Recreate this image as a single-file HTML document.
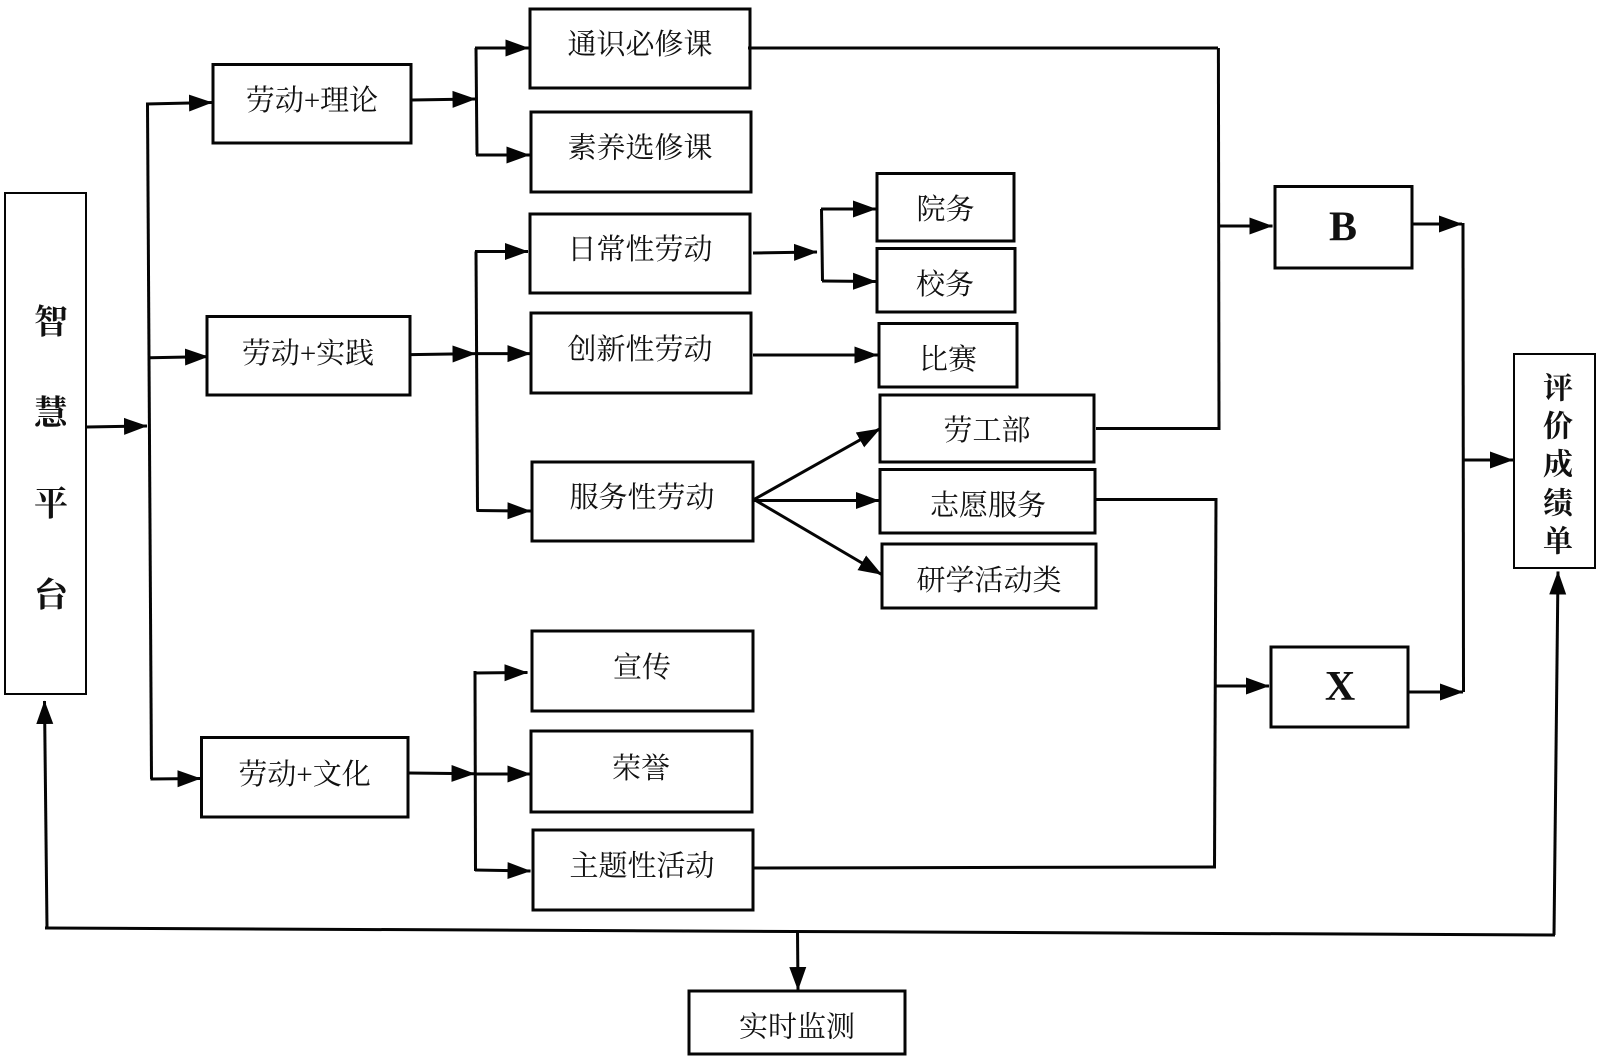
<!DOCTYPE html>
<html lang="zh"><head><meta charset="utf-8"><title>智慧平台流程图</title>
<style>
html,body{margin:0;padding:0;background:#fff;width:1600px;height:1063px;overflow:hidden}
svg{display:block;filter:blur(.35px)}
text{font-family:"Liberation Serif","Noto Serif CJK SC",serif;fill:#111;text-anchor:middle;dominant-baseline:central}
.t{font-size:29px}
.v{font-size:34px;font-weight:700}
.w{font-size:30px;font-weight:700}
.l{font-size:42px;font-weight:700;font-family:"Liberation Serif",serif}
.b rect{fill:#fff;stroke:#050505;stroke-width:3}
.c path{fill:none;stroke:#050505;stroke-width:3;stroke-linecap:butt;stroke-linejoin:miter}
.a path{marker-end:url(#ah)}
</style></head><body>
<svg width="1600" height="1063" viewBox="0 0 1600 1063" xmlns="http://www.w3.org/2000/svg">
<defs>
<marker id="ah" markerUnits="userSpaceOnUse" markerWidth="25" markerHeight="19" refX="23" refY="9" orient="auto"><path d="M0,0.5 L23.5,9 L0,17.500 Z" fill="#050505"/></marker>
</defs>
<rect width="1600" height="1063" fill="#fff"/>

<g class="b">
<rect x="5" y="193" width="81" height="501" style="stroke-width:2"/>
<rect x="1514" y="354" width="81" height="214" style="stroke-width:2"/>
<rect x="213" y="64.5" width="198" height="78.5"/>
<rect x="207" y="316.5" width="203" height="78.5"/>
<rect x="201.500" y="737.500" width="206.500" height="79.500"/>
<rect x="530" y="9" width="220" height="79"/>
<rect x="531" y="112" width="220" height="80"/>
<rect x="530" y="214" width="220" height="79"/>
<rect x="531" y="313" width="220" height="80"/>
<rect x="532" y="462" width="221" height="79"/>
<rect x="532" y="631" width="221" height="80"/>
<rect x="531" y="731" width="221" height="81"/>
<rect x="533" y="830" width="220" height="80"/>
<rect x="877" y="173.500" width="137" height="67.500"/>
<rect x="877" y="248.500" width="138" height="63.500"/>
<rect x="879" y="323.500" width="138" height="63.500"/>
<rect x="880" y="395" width="214" height="67"/>
<rect x="880" y="469.500" width="215" height="63.500"/>
<rect x="882" y="544" width="214" height="64"/>
<rect x="1275" y="186.500" width="137" height="81.500"/>
<rect x="1271" y="647" width="137" height="80"/>
<rect x="689" y="991" width="216" height="63"/>
</g>

<g class="c">
<path d="M147.500,104 L151.500,779"/>
<path d="M476,48 L477,155"/>
<path d="M476,251.500 L477.500,510.500"/>
<path d="M475,671 L475.500,871"/>
<path d="M821.500,209 L822.500,281"/>
<path d="M748,48 L1218,48"/>
<path d="M1218.400,48 L1219,430"/>
<path d="M1096,428.500 L1220,428.500"/>
<path d="M1463,223 L1463.500,692"/>
<path d="M1096,499.500 L1217.500,499.500"/>
<path d="M1216,498 L1214.500,868"/>
<path d="M754,868 L1216,867"/>
<path d="M45,928 L1555,935"/>
</g>

<g class="c a">
<path d="M87,427 L147,426"/>
<path d="M146,104 L212,102.500"/>
<path d="M150,357.700 L208,356.600"/>
<path d="M150.500,779 L200.500,778.500"/>
<path d="M412,100 L475.500,99"/>
<path d="M475,48 L528.500,48"/>
<path d="M476,155 L529.500,155"/>
<path d="M411,354.600 L475.500,353.600"/>
<path d="M475,251.500 L528,251.500"/>
<path d="M476,353.600 L530.500,353.600"/>
<path d="M476.500,510.500 L530.500,511"/>
<path d="M409,773 L474.500,773.700"/>
<path d="M474.500,673 L527.500,672.500"/>
<path d="M475,774 L530.500,774"/>
<path d="M475,870 L530.500,871"/>
<path d="M753,253 L817,252"/>
<path d="M821,209 L876,209"/>
<path d="M822,281 L876,281.500"/>
<path d="M753,355 L877.500,355"/>
<path d="M754,499.500 L880,428.700"/>
<path d="M754,500.500 L879,500.500"/>
<path d="M754,499.500 L881.600,574.500"/>
<path d="M1219,226 L1272.500,226"/>
<path d="M1412,224 L1462,224"/>
<path d="M1463.500,460 L1513,460"/>
<path d="M1408.500,692 L1463,692"/>
<path d="M1215.500,686 L1269,686"/>
<path d="M47,928 L44.500,701"/>
<path d="M1554,935 L1558,571.500"/>
<path d="M797.500,931 L798,990"/>
</g>

<text class="v" x="51" y="323">智</text>
<text class="v" x="51" y="414">慧</text>
<text class="v" x="51" y="505">平</text>
<text class="v" x="51" y="596">台</text>
<text class="w" x="1558" y="389">评</text>
<text class="w" x="1558" y="427">价</text>
<text class="w" x="1558" y="465">成</text>
<text class="w" x="1558" y="504">绩</text>
<text class="w" x="1558" y="542">单</text>

<text class="t" x="312" y="101">劳动+理论</text>
<text class="t" x="308" y="354">劳动+实践</text>
<text class="t" x="304.600" y="775">劳动+文化</text>
<text class="t" x="640" y="45">通识必修课</text>
<text class="t" x="640" y="148.500">素养选修课</text>
<text class="t" x="640" y="250">日常性劳动</text>
<text class="t" x="640" y="350">创新性劳动</text>
<text class="t" x="642" y="498">服务性劳动</text>
<text class="t" x="642" y="668">宣传</text>
<text class="t" x="641" y="769">荣誉</text>
<text class="t" x="642" y="866.500">主题性活动</text>
<text class="t" x="945.500" y="210">院务</text>
<text class="t" x="945" y="285">校务</text>
<text class="t" x="948" y="360">比赛</text>
<text class="t" x="987" y="431">劳工部</text>
<text class="t" x="988" y="506">志愿服务</text>
<text class="t" x="989" y="581">研学活动类</text>
<text class="t" x="797" y="1027.500">实时监测</text>
<text class="l" x="1343" y="227.500">B</text>
<text class="l" x="1340" y="687">X</text>
</svg>
</body></html>
